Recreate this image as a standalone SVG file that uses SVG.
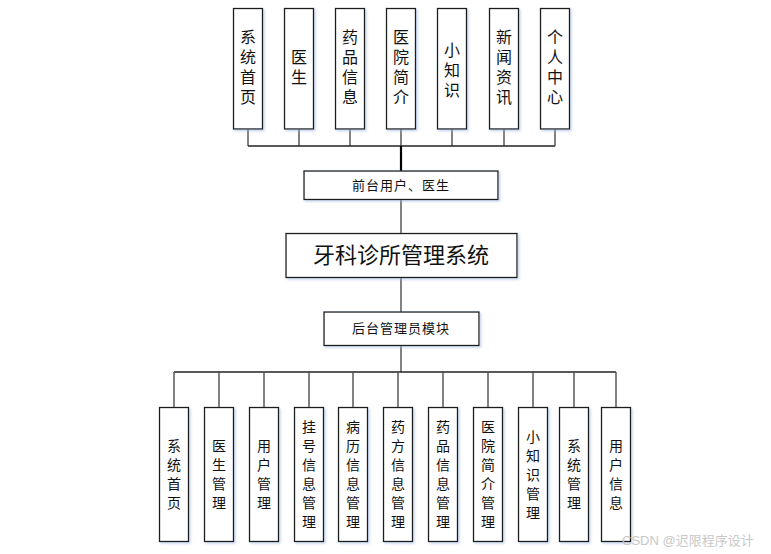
<svg xmlns="http://www.w3.org/2000/svg" width="771" height="554" viewBox="0 0 771 554">
<defs>
<filter id="sh" x="-30%" y="-10%" width="160%" height="120%">
<feDropShadow dx="1.5" dy="1.5" stdDeviation="1.2" flood-color="#9fb8e0" flood-opacity="0.6"/>
</filter>
</defs>
<style>
.box{fill:#fff;stroke:#1a1a1a;stroke-width:1.3;filter:url(#sh)}
.t{font-family:"Noto Sans CJK SC","Noto Sans",sans-serif;fill:#111;text-anchor:middle}
.v{writing-mode:vertical-rl;text-orientation:upright}
.tt{font-size:16px;letter-spacing:4px}
.bt{font-size:14px;letter-spacing:5px}
.mt{font-size:13px;letter-spacing:1px}
.title{font-size:22px}
.ln{stroke:#5a5a5a;stroke-width:1.5;fill:none}
.hl{stroke:#222;stroke-width:1.5;fill:none}
.wm{font-family:"Liberation Sans","Noto Sans CJK SC",sans-serif;font-size:13px;fill:#c8c8c8}
</style>
<rect width="771" height="554" fill="#fff"/>
<g id="connectors">
<path class="ln" d="M248,129V146M299,129V146M350,129V146M401,129V146M452,129V146M504,129V146M555,129V146"/>
<path class="hl" d="M248,146H555"/>
<path stroke="#000" stroke-width="2.2" d="M401,146V171"/>
<path class="ln" d="M401,199V233M401,278V312M401,345V372"/>
<path class="hl" d="M174,372H616"/>
<path class="ln" d="M174,372V407M219,372V407M264,372V407M309,372V407M353,372V407M398,372V407M443,372V407M488,372V407M533,372V407M574,372V407M616,372V407"/>
</g>
<g id="top1"><rect class="box" x="233.5" y="8.5" width="29" height="120.5"/><text class="t v tt" x="248" y="69">系统首页</text></g>
<g id="top2"><rect class="box" x="284.5" y="8.5" width="29" height="120.5"/><text class="t v tt" x="299" y="69">医生</text></g>
<g id="top3"><rect class="box" x="335.5" y="8.5" width="29" height="120.5"/><text class="t v tt" x="350" y="69">药品信息</text></g>
<g id="top4"><rect class="box" x="386.5" y="8.5" width="29" height="120.5"/><text class="t v tt" x="401" y="69">医院简介</text></g>
<g id="top5"><rect class="box" x="437.5" y="8.5" width="29" height="120.5"/><text class="t v tt" x="452" y="72">小知识</text></g>
<g id="top6"><rect class="box" x="489.5" y="8.5" width="29" height="120.5"/><text class="t v tt" x="504" y="69">新闻资讯</text></g>
<g id="top7"><rect class="box" x="540.5" y="8.5" width="29" height="120.5"/><text class="t v tt" x="555" y="69">个人中心</text></g>
<g id="front"><rect class="box" x="304" y="171" width="194" height="28.5"/><text class="t mt" x="401" y="190">前台用户、医生</text></g>
<g id="main"><rect class="box" x="286" y="233.5" width="231" height="44"/><text class="t title" x="401" y="263">牙科诊所管理系统</text></g>
<g id="back"><rect class="box" x="324" y="312" width="155" height="33.5"/><text class="t mt" x="401" y="333">后台管理员模块</text></g>
<g id="b1"><rect class="box" x="159.5" y="407.5" width="29" height="134"/><text class="t v bt" x="174" y="477">系统首页</text></g>
<g id="b2"><rect class="box" x="204.5" y="407.5" width="29" height="134"/><text class="t v bt" x="219" y="477">医生管理</text></g>
<g id="b3"><rect class="box" x="249.5" y="407.5" width="29" height="134"/><text class="t v bt" x="264" y="477">用户管理</text></g>
<g id="b4"><rect class="box" x="294.5" y="407.5" width="29" height="134"/><text class="t v bt" x="309" y="477">挂号信息管理</text></g>
<g id="b5"><rect class="box" x="338.5" y="407.5" width="29" height="134"/><text class="t v bt" x="353" y="477">病历信息管理</text></g>
<g id="b6"><rect class="box" x="383.5" y="407.5" width="29" height="134"/><text class="t v bt" x="398" y="477">药方信息管理</text></g>
<g id="b7"><rect class="box" x="428.5" y="407.5" width="29" height="134"/><text class="t v bt" x="443" y="477">药品信息管理</text></g>
<g id="b8"><rect class="box" x="473.5" y="407.5" width="29" height="134"/><text class="t v bt" x="488" y="477">医院简介管理</text></g>
<g id="b9"><rect class="box" x="518.5" y="407.5" width="29" height="134"/><text class="t v bt" x="533" y="477">小知识管理</text></g>
<g id="b10"><rect class="box" x="559.5" y="407.5" width="29" height="134"/><text class="t v bt" x="574" y="477">系统管理</text></g>
<g id="b11"><rect class="box" x="601.5" y="407.5" width="29" height="134"/><text class="t v bt" x="616" y="477">用户信息</text></g>
<text class="wm" x="622" y="545">CSDN @迟限程序设计</text>
</svg>
